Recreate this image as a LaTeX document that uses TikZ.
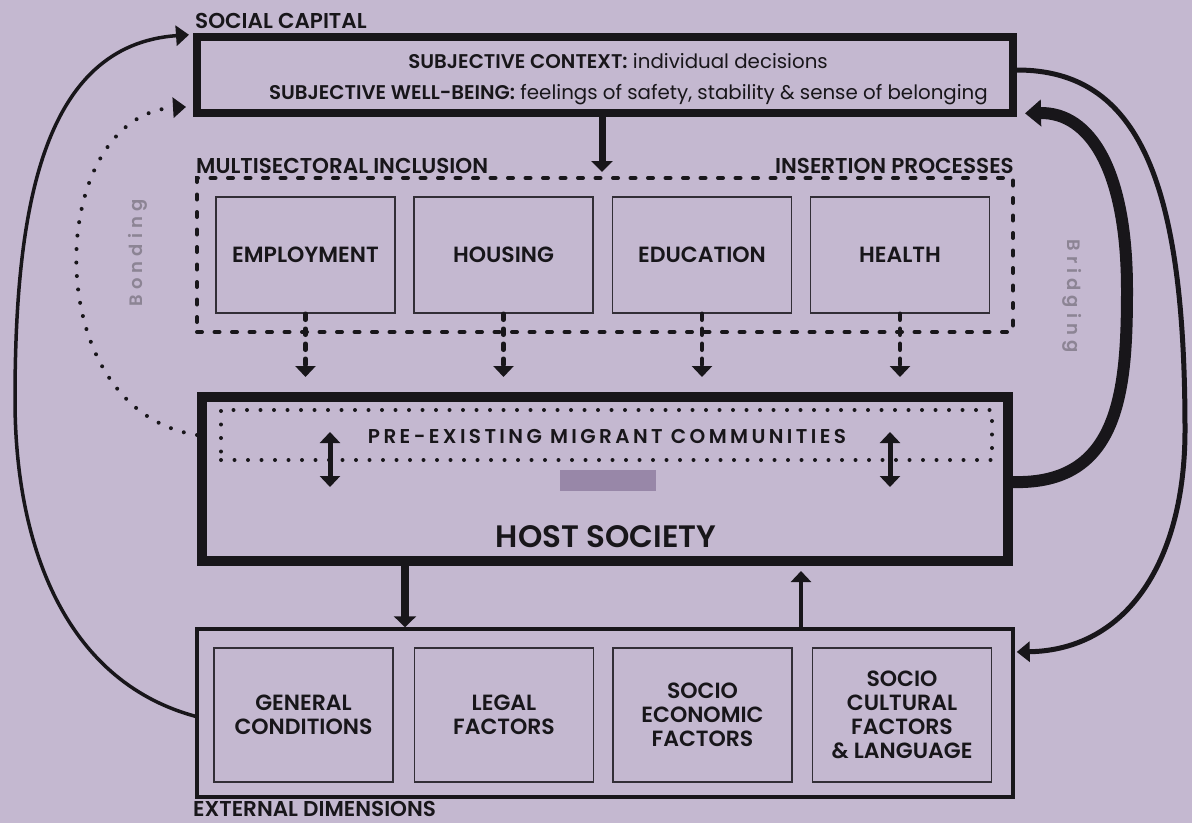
\documentclass[tikz,border=0pt]{standalone}
\usepackage{fontspec}
\setmainfont{Poppins}[BoldFont={Poppins SemiBold}]
\newfontfamily\spacedfont{Poppins}[LetterSpace=17,BoldFont={Poppins SemiBold}]
\newfontfamily\lblfont{Poppins}[LetterSpace=28,BoldFont={Poppins SemiBold}]
\usetikzlibrary{arrows.meta,calc}
\definecolor{bg}{RGB}{196,184,208}
\definecolor{ink}{RGB}{24,22,26}
\definecolor{lbl}{RGB}{140,132,148}
\definecolor{barc}{RGB}{152,135,168}
\definecolor{thinc}{RGB}{50,46,54}
\begin{document}
\begin{tikzpicture}[x=1pt,y=-1pt,
  txt/.style={inner sep=0pt, text=ink},
  head/.style={txt, font=\bfseries\fontsize{21.5}{22}\selectfont},
  topbox/.style={draw=thinc, line width=1.5pt, minimum width=179pt, minimum height=116pt, inner sep=0pt, align=center, text=ink, font=\bfseries\fontsize{22}{24}\selectfont},
  botbox/.style={topbox, minimum height=134pt},
  dashline/.style={line width=4pt, dash pattern=on 5pt off 12.5pt, line cap=round, draw=ink},
  darrow/.style={line width=4.5pt, dash pattern=on 6pt off 9pt, line cap=round, draw=ink, -{Triangle[width=20pt,length=11pt]}, shorten >=15pt},
  dotline/.style={line width=4pt, dash pattern=on 0pt off 13.5pt, line cap=round, draw=ink},
  tip/.style={-{Triangle[width=20pt,length=11pt]}},
  sidelbl/.style={inner sep=0pt, text=lbl, font=\lblfont\bfseries\fontsize{18}{20}\selectfont}
]
\fill[bg] (0,0) rectangle (1192,823);
\useasboundingbox (0,0) rectangle (1192,823);

% main frames
\node[draw=ink, line width=8pt, minimum width=816pt, minimum height=76pt, inner sep=0pt] (social) at (605,74.5) {};
\node[dashline, minimum width=816pt, minimum height=154pt, inner sep=0pt] (multi) at (605,255) {};
\node[draw=ink, line width=10pt, minimum width=806pt, minimum height=164pt, inner sep=0pt] (host) at (605,479) {};
\node[draw=ink, line width=3.5pt, minimum width=816pt, minimum height=168pt, inner sep=0pt] (ext) at (605,713) {};
\node[dotline, minimum width=771pt, minimum height=50pt, inner sep=0pt] (pre) at (606.5,435) {};
\node[fill=barc, minimum width=96pt, minimum height=21pt, inner sep=0pt] (bar) at (608,480.5) {};

% headings
\node[head, anchor=base west] (sclabel) at (195,28) {SOCIAL CAPITAL};
\node[txt, anchor=base east, font=\fontsize{19.8}{22}\selectfont] (sc1) at (828,68) {\textbf{SUBJECTIVE CONTEXT:} individual decisions};
\node[txt, anchor=base east, font=\fontsize{19.8}{22}\selectfont] (sc2) at (988,99) {\textbf{SUBJECTIVE WELL-BEING:} feelings of safety, stability \& sense of belonging};
\node[head, anchor=base west] (msi) at (196,173) {MULTISECTORAL INCLUSION};
\node[head, anchor=base east] (ipr) at (1014,173) {INSERTION PROCESSES};
\node[head, anchor=base west] (exd) at (193,816) {EXTERNAL DIMENSIONS};
\node[txt, anchor=base, font=\spacedfont\bfseries\fontsize{20}{22}\selectfont] (pretxt) at (607,443) {PRE-EXISTING MIGRANT COMMUNITIES};
\node[txt, anchor=base, font=\bfseries\fontsize{31}{33}\selectfont] (hosttxt) at (606,547) {HOST SOCIETY};

% inner boxes
\node[topbox] (emp) at (305.5,255) {EMPLOYMENT};
\node[topbox] (hou) at (503.5,255) {HOUSING};
\node[topbox] (edu) at (702,255) {EDUCATION};
\node[topbox] (hea) at (900,255) {HEALTH};
\node[botbox] (gen) at (303.5,715) {GENERAL\\CONDITIONS};
\node[botbox] (leg) at (504,715) {LEGAL\\FACTORS};
\node[botbox] (eco) at (702.5,715) {SOCIO\\ECONOMIC\\FACTORS};
\node[botbox] (cul) at (902,715) {SOCIO\\CULTURAL\\FACTORS\\\& LANGUAGE};

% side labels
\node[sidelbl, rotate=90] (bonding) at (138,253) {Bonding};
\node[sidelbl, rotate=-90] (bridging) at (1072,296) {Bridging};

% vertical connectors
\coordinate (sx) at (602,0);
\coordinate (dx) at (405,0);
\coordinate (ux) at (801,0);
\draw[ink, line width=7pt, -{Triangle[width=21pt,length=11pt]}, shorten >=4pt] (social.south -| sx) -- (multi.north -| sx);
\foreach \b in {emp,hou,edu,hea} \draw[darrow] (\b.south) -- (\b.south |- host.north);
\draw[ink, line width=8pt, -{Triangle[width=22pt,length=11pt]}] (host.south -| dx) -- (ext.north -| dx);
\draw[ink, line width=4pt, tip, shorten >=5pt] (ext.north -| ux) -- (host.south -| ux);

% double arrows
\coordinate (la) at (330,432); \coordinate (lb) at (330,487);
\coordinate (ra) at (890,432); \coordinate (rb) at (890,487);
\draw[ink, line width=5pt, {Triangle[width=20pt,length=11pt]}-{Triangle[width=20pt,length=11pt]}] (la) -- (lb);
\draw[ink, line width=5pt, {Triangle[width=20pt,length=11pt]}-{Triangle[width=20pt,length=11pt]}] (ra) -- (rb);

% curved connectors
\draw[ink, line width=3.5pt, -{Triangle[width=20pt,length=13pt]}, shorten >=4pt]
  ($(ext.north west)+(0,89)$) .. controls (62,680) and (15,540) .. (15,400)
  .. controls (15,210) and (42,45) .. ($(social.north west)+(0,2)$);
\draw[dotline, -{Triangle[width=20pt,length=13pt]}, shorten >=7pt]
  (host.west |- pre.west) .. controls (35,410) and (45,115) .. ($(social.south west)+(0,-10)$);
\draw[ink, line width=12pt, -{Triangle[width=26pt,length=16pt]}, shorten >=8pt]
  ($(host.east)+(0,3)$) .. controls (1120,485) and (1127,390) .. (1127,290)
  .. controls (1127,170) and (1090,112) .. ($(social.south east)+(0,-3)$);
\draw[ink, line width=5pt, -{Triangle[width=20pt,length=13pt]}, shorten >=2pt]
  ($(social.east)+(0,-4.5)$) .. controls (1138,70) and (1185,180) .. (1185,430)
  .. controls (1185,560) and (1128,650) .. ($(ext.east)+(0,-61)$);
\end{tikzpicture}
\end{document}
